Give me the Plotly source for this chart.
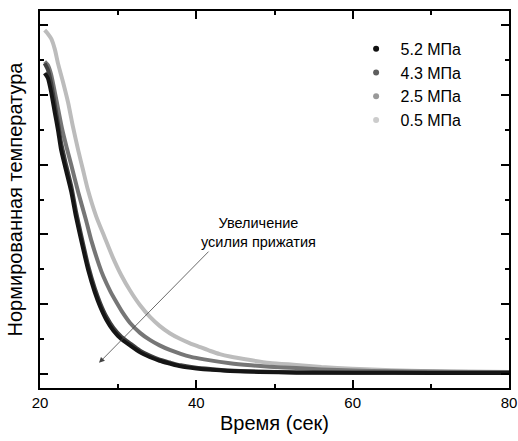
import plotly.graph_objects as go

# Time (s) and normalized temperature
t_52 = [20.6, 21.0, 21.45, 21.9, 22.3, 22.7, 23.2, 24.0, 24.6, 25.3, 26.2, 27.0, 27.7, 28.5, 29.4, 30.4, 31.5, 32.8, 34.1, 35.3, 36.6, 38.0, 40.0, 42.0, 44.3, 48.0, 52.8, 60.0, 70.0, 80.0]
y_52 = [0.862, 0.848, 0.805, 0.748, 0.699, 0.642, 0.595, 0.522, 0.451, 0.380, 0.295, 0.235, 0.193, 0.155, 0.124, 0.100, 0.082, 0.062, 0.048, 0.038, 0.030, 0.022, 0.016, 0.012, 0.009, 0.006, 0.004, 0.004, 0.003, 0.003]

t_43 = [20.6, 21.0, 21.45, 21.9, 22.3, 22.7, 23.2, 24.0, 24.6, 25.3, 26.2, 27.0, 27.7, 28.5, 29.4, 30.4, 31.5, 32.8, 34.1, 35.3, 36.6, 38.0, 40.0, 42.0, 44.3, 48.0, 52.8, 60.0, 70.0, 80.0]
y_43 = [0.890, 0.872, 0.830, 0.770, 0.718, 0.662, 0.612, 0.538, 0.466, 0.394, 0.307, 0.246, 0.203, 0.164, 0.132, 0.107, 0.088, 0.067, 0.052, 0.041, 0.033, 0.025, 0.018, 0.014, 0.010, 0.007, 0.005, 0.004, 0.004, 0.004]

t_25 = [20.6, 21.0, 21.4, 22.05, 22.8, 23.4, 24.0, 24.9, 25.9, 26.6, 27.6, 28.1, 29.0, 29.8, 30.6, 31.5, 32.8, 34.1, 35.3, 36.6, 38.0, 39.2, 41.0, 44.3, 47.0, 49.4, 52.8, 56.0, 60.0, 65.0, 70.0, 75.0, 80.0]
y_25 = [0.895, 0.885, 0.860, 0.790, 0.705, 0.650, 0.599, 0.520, 0.440, 0.380, 0.310, 0.280, 0.237, 0.205, 0.175, 0.147, 0.118, 0.097, 0.082, 0.069, 0.058, 0.050, 0.042, 0.031, 0.025, 0.021, 0.017, 0.013, 0.010, 0.008, 0.007, 0.006, 0.006]

t_05 = [20.6, 21.0, 21.45, 21.9, 22.3, 22.9, 23.6, 24.2, 24.9, 25.5, 26.1, 27.2, 28.3, 29.3, 30.4, 31.5, 32.8, 34.1, 35.3, 36.6, 37.9, 39.2, 40.5, 41.8, 43.0, 44.3, 46.9, 49.4, 52.8, 56.0, 60.0, 65.0, 70.0, 75.0, 80.0]
y_05 = [0.985, 0.975, 0.960, 0.930, 0.890, 0.840, 0.777, 0.710, 0.640, 0.585, 0.530, 0.451, 0.390, 0.335, 0.283, 0.240, 0.197, 0.163, 0.138, 0.117, 0.101, 0.088, 0.077, 0.066, 0.057, 0.050, 0.040, 0.032, 0.026, 0.020, 0.015, 0.011, 0.008, 0.007, 0.006]

labels = [" 5.2 МПа", " 4.3 МПа", " 2.5 МПа", " 0.5 МПа"]
line_colors = ["#151515", "#404040", "#767676", "#bcbcbc"]
legend_colors = ["#111111", "#5e5e5e", "#999999", "#cccccc"]
series = [(t_52, y_52), (t_43, y_43), (t_25, y_25), (t_05, y_05)]

x_ticks = [20, 40, 60, 80]
x_minor = [30, 50, 70]
y_major = [0, 0.2, 0.4, 0.6, 0.8, 1.0]

fig = go.Figure()

# draw lightest first so darker ones sit on top
for i in reversed(range(4)):
    t, y = series[i]
    fig.add_trace(go.Scatter(x=t, y=y, mode="lines",
                             line=dict(color=line_colors[i], width=4, shape="spline", smoothing=0.6),
                             showlegend=False, hoverinfo="skip"))

for i in range(4):
    fig.add_trace(go.Scatter(x=[None], y=[None], mode="markers", name=labels[i],
                             marker=dict(color=legend_colors[i], size=6)))

axis_common = dict(showgrid=False, zeroline=False, showline=True, linecolor="black",
                   linewidth=1.5, mirror="ticks", ticks="inside", tickcolor="black",
                   automargin=False)

fig.update_xaxes(range=[20, 80], tickvals=x_ticks, ticklen=8, tickwidth=1.5,
                 tickfont=dict(size=15, color="black"),
                 minor=dict(tickvals=x_minor, ticklen=4, ticks="inside", tickcolor="black", tickwidth=1.5),
                 title=dict(text="Время (сек)", font=dict(size=20, color="black"), standoff=6),
                 **axis_common)
fig.update_yaxes(range=[-0.040, 1.040], tickvals=y_major, ticklen=8, tickwidth=1.5,
                 showticklabels=False,
                 minor=dict(dtick=0.1, tick0=0.1, ticklen=4, ticks="inside", tickcolor="black", tickwidth=1.5),
                 title=dict(text="Нормированная температура", font=dict(size=20, color="black"), standoff=10),
                 **axis_common)

fig.add_annotation(x=27.55, y=0.032, ax=41.75, ay=0.355, xref="x", yref="y", axref="x", ayref="y",
                   showarrow=True, arrowhead=2, arrowsize=1.4, arrowwidth=0.8, arrowcolor="#444444", text="")
fig.add_annotation(x=47.89, y=0.405, xref="x", yref="y", showarrow=False,
                   text="Увеличение<br>усилия прижатия", font=dict(size=14.5, color="black"))

fig.update_layout(width=518, height=441, margin=dict(l=40, r=9, t=11, b=53),
                  paper_bgcolor="white", plot_bgcolor="white",
                  font=dict(family="Liberation Sans, Arial, sans-serif", color="black"),
                  legend=dict(x=0.674, y=0.945, xanchor="left", yanchor="top",
                              font=dict(size=16, color="black"), bgcolor="rgba(0,0,0,0)",
                              tracegroupgap=0))

fig.write_html("out.html")
